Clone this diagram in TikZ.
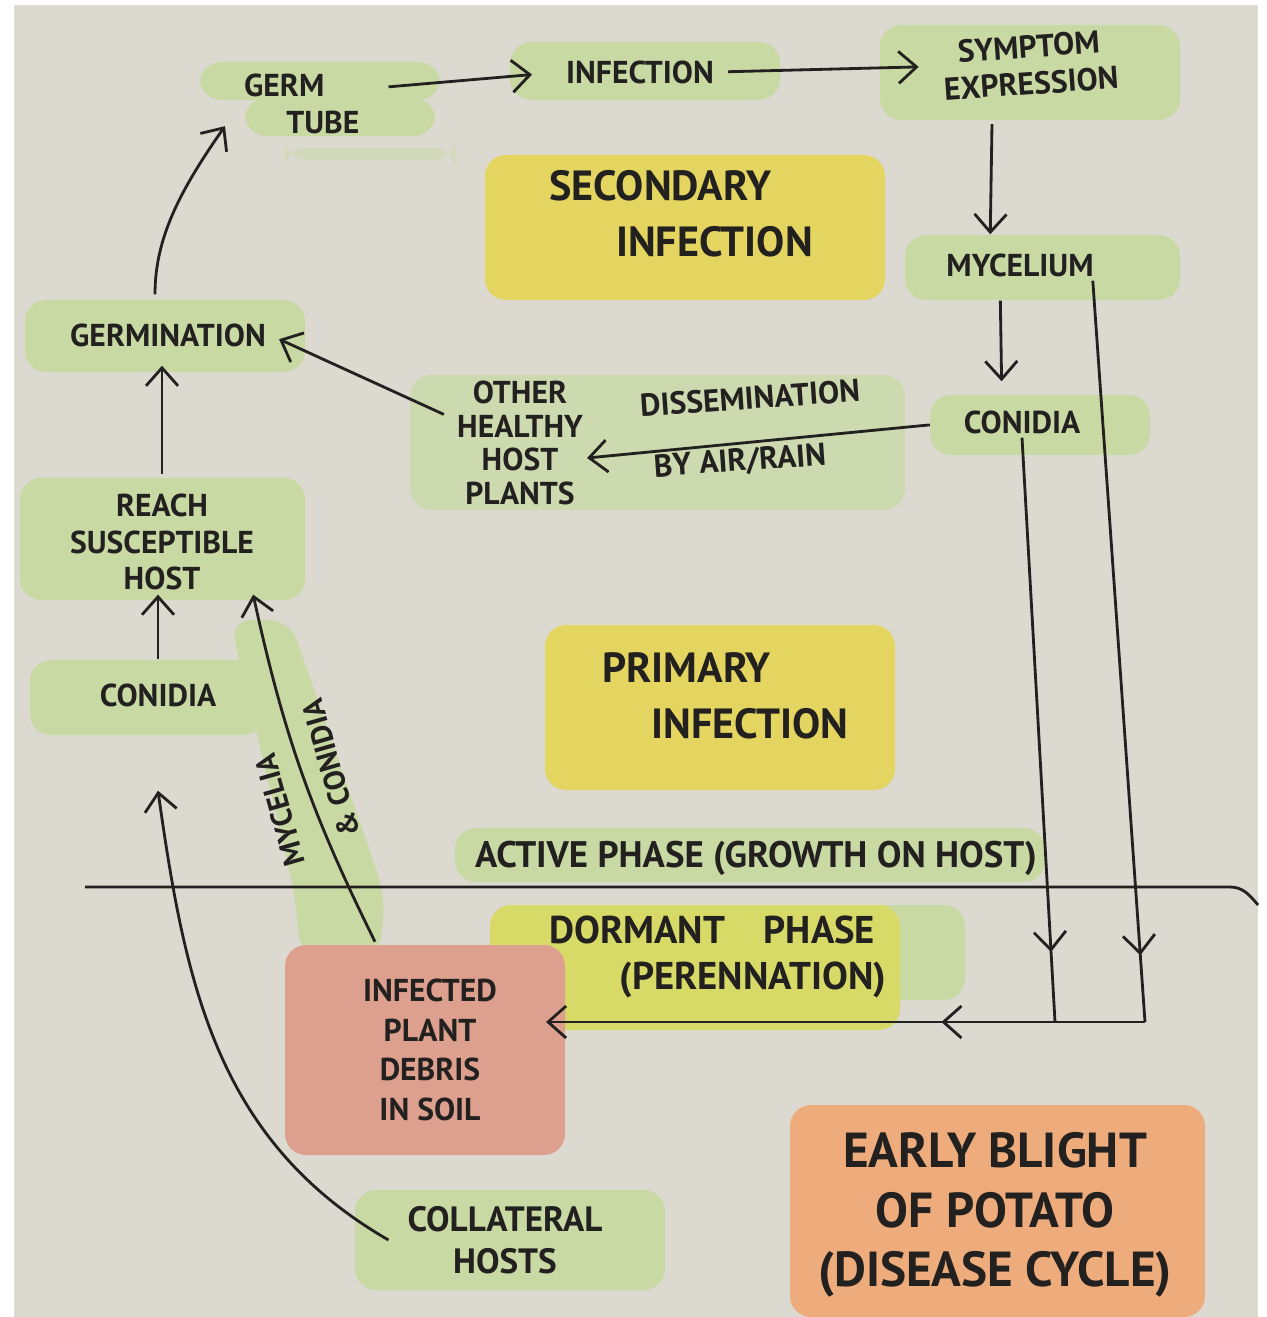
\documentclass[tikz,border=0pt]{standalone}
\usepackage{fontspec}
\setmainfont{PT Sans}
\usetikzlibrary{arrows.meta, positioning, calc, decorations.markings}

\definecolor{paper}{RGB}{220,217,209}
\definecolor{hlgreen}{RGB}{200,217,164}
\definecolor{hlyellow}{RGB}{228,212,96}
\definecolor{hlolive}{RGB}{216,218,104}
\definecolor{hlred}{RGB}{221,160,142}
\definecolor{hlorange}{RGB}{238,172,124}
\definecolor{ink}{RGB}{35,33,32}

\begin{document}
\begin{tikzpicture}[
  txt/.style={font=\fontsize{9}{10.5}\selectfont\bfseries, align=center, inner sep=1pt, text=ink},
  mid/.style={txt, font=\fontsize{10.5}{13}\selectfont\bfseries},
  big/.style={txt, font=\fontsize{12}{16}\selectfont\bfseries},
  arr/.style={-{Straight Barb[length=1.8mm,width=3.2mm]}, thick, ink},
  midarr/.style={thick, ink, decoration={markings,
    mark=at position #1 with {\arrow{Straight Barb[length=1.8mm,width=3.2mm]}}},
    postaction=decorate},
  hl/.style={rounded corners=6pt}
]
  % paper
  \useasboundingbox (0,0) rectangle (12.66,-13.17);
  \fill[white] (0,0) rectangle (12.66,-13.17);
  \fill[paper] (0.14,-0.05) rectangle (12.58,-13.17);

  % colour patches
  \fill[hl, hlgreen] (2.00,-0.62) rectangle (4.40,-1.00);
  \fill[hl, hlgreen] (2.45,-0.98) rectangle (4.35,-1.36);
  \fill[hl, hlgreen, opacity=.5] (2.85,-1.48) rectangle (4.55,-1.60);
  \fill[hl, hlgreen] (5.10,-0.42) rectangle (7.80,-1.00);
  \fill[hl, hlgreen] (8.80,-0.25) rectangle (11.80,-1.20);
  \fill[hl, hlyellow] (4.85,-1.55) rectangle (8.85,-3.00);
  \fill[hl, hlgreen] (9.05,-2.35) rectangle (11.80,-3.00);
  \fill[hl, hlgreen] (9.30,-3.95) rectangle (11.50,-4.55);
  \fill[hl, hlgreen] (0.25,-3.00) rectangle (3.05,-3.72);
  \fill[hl, hlgreen, opacity=.75] (4.10,-3.75) rectangle (9.05,-5.10);
  \fill[hl, hlgreen] (0.20,-4.78) rectangle (3.05,-6.00);
  \fill[hl, hlgreen] (0.30,-6.60) rectangle (2.65,-7.35);
  \fill[hl, hlgreen] (2.30,-6.20) -- (2.90,-6.20) -- (3.85,-8.95)
    -- (3.80,-9.55) -- (3.00,-9.55) -- (2.95,-8.95) -- cycle;
  \fill[hl, hlyellow] (5.45,-6.25) rectangle (8.95,-7.90);
  \fill[hl, hlgreen] (4.55,-8.28) rectangle (10.45,-8.82);
  \fill[hl, hlgreen] (8.40,-9.05) rectangle (9.65,-10.00);
  \fill[hl, hlolive] (4.90,-9.05) rectangle (9.00,-10.30);
  \fill[hl, hlred] (2.85,-9.45) rectangle (5.65,-11.55);
  \fill[hl, hlgreen] (3.55,-11.90) rectangle (6.65,-12.90);
  \fill[hl, hlorange] (7.90,-11.05) rectangle (12.05,-13.17);

  % stages
  \node[txt, align=left, anchor=west] (germ) at (2.40,-1.04)
       {GERM\\\hspace*{12pt}TUBE};
  \node[txt] (infection)   at (6.40,-0.72) {INFECTION};
  \node[txt, rotate=4] (symptom) at (10.30,-0.65) {SYMPTOM\\EXPRESSION};
  \node[txt] (mycelium)    at (10.20,-2.65) {MYCELIUM};
  \node[txt] (conidiaR)    at (10.22,-4.22) {CONIDIA};
  \node[txt] (germination) at (1.68,-3.35) {GERMINATION};
  \node[txt, font=\fontsize{9}{9.6}\selectfont\bfseries] (other) at (5.20,-4.43)
       {OTHER\\HEALTHY\\HOST\\PLANTS};
  \node[txt, rotate=4] (dissem) at (7.50,-3.98) {DISSEMINATION};
  \node[txt, rotate=4] (byair)  at (7.40,-4.62) {BY AIR/RAIN};
  \node[txt] (reach) at (1.62,-5.42) {REACH\\SUSCEPTIBLE\\HOST};
  \node[txt] (conidiaL)    at (1.58,-6.95) {CONIDIA};
  \node[txt, font=\fontsize{8.5}{10}\selectfont\bfseries, rotate=106] (mycelia)
       at (2.80,-8.10) {MYCELIA};
  \node[txt, font=\fontsize{8.5}{10}\selectfont\bfseries, rotate=106] (conid)
       at (3.31,-7.68) {\& CONIDIA};
  \node[txt, font=\fontsize{9}{11.3}\selectfont\bfseries] (debris) at (4.30,-10.50)
       {INFECTED\\PLANT\\DEBRIS\\IN SOIL};
  \node[txt, font=\fontsize{10}{12}\selectfont\bfseries] (collateral) at (5.05,-12.40)
       {COLLATERAL\\HOSTS};

  % phase and title texts
  \node[big, align=left, anchor=west] (secondary) at (5.45,-2.14)
       {SECONDARY\\\hspace*{19pt}INFECTION};
  \node[big, align=left, anchor=west] (primary) at (5.98,-6.96)
       {PRIMARY\\\hspace*{14pt}INFECTION};
  \node[mid] (active) at (7.56,-8.58) {ACTIVE PHASE (GROWTH ON HOST)};
  \node[mid, font=\fontsize{11}{13}\selectfont\bfseries, align=left, anchor=west]
       (dormant) at (5.45,-9.57) {DORMANT\quad PHASE\\\hspace*{20pt}(PERENNATION)};
  \node[big, font=\fontsize{14}{17}\selectfont\bfseries] (title) at (9.95,-12.15)
       {EARLY BLIGHT\\OF POTATO\\(DISEASE CYCLE)};

  % divider between phases
  \draw[thick, ink] (0.85,-8.87) -- (12.30,-8.87) to[out=0, in=130] (12.58,-9.05);

  % secondary cycle
  \draw[arr, shorten <=2.5mm, shorten >=3mm]
    ([yshift=0.15cm]germ.east) -- (infection.west);
  \draw[arr, shorten <=1mm, shorten >=2mm]
    (infection.east) -- ([yshift=0.05cm]symptom.west);
  \draw[arr, shorten <=2.5mm, shorten >=1.5mm]
    ([xshift=-0.4cm]symptom.south) -- ([xshift=-0.3cm]mycelium.north);
  \draw[arr, shorten <=2mm, shorten >=2.5mm]
    ([xshift=-0.2cm]mycelium.south) -- ([xshift=-0.2cm]conidiaR.north);
  \draw[arr, shorten <=3mm] (conidiaR.west) -- ([yshift=-0.15cm]other.east);
  \draw[arr, shorten <=1mm, shorten >=1mm] (other.160) -- (germination.east);
  \draw[arr, shorten <=2.5mm]
    ([xshift=-0.13cm]germination.north) to[out=90, in=235]
    ([shift={(-0.15,0.12)}]germ.south west);
  \draw[arr, shorten <=1.5mm, shorten >=1.5mm]
    (reach.north) -- (reach.north |- germination.south);
  \draw[arr, shorten <=2mm] (conidiaL.north) -- (conidiaL.north |- reach.south);

  % primary sources
  \draw[arr] ([xshift=-0.15cm]collateral.west) to[out=150, in=-82]
    ([yshift=-0.8cm]conidiaL.south);
  \draw[arr] ([shift={(-0.55,0.33)}]debris.north) to[bend left=7]
    ([xshift=-0.05cm]reach.south east);

  % back to the soil
  \coordinate (cM) at (11.45,-10.22);
  \coordinate (cC) at (10.55,-10.22);
  \draw[midarr=0.91] ([xshift=-0.05cm]mycelium.south east) -- (cM);
  \draw[midarr=0.88] (conidiaR.south) -- (cC);
  \draw[arr, midarr=0.34] (cM) -- ($(debris.east |- cM)+(0.45,0)$);

\end{tikzpicture}
\end{document}
